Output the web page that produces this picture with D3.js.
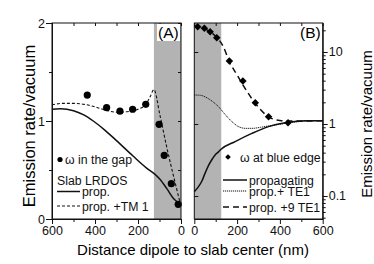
<!DOCTYPE html>
<html>
<head>
<meta charset="utf-8">
<script src="https://cdnjs.cloudflare.com/ajax/libs/d3/7.8.5/d3.min.js"></script>
<style>
  body { margin: 0; background: #fff; }
  svg { display: block; font-family: "Liberation Sans", Arial, sans-serif; }
  .axis text { font-size: 12.5px; fill: #111; }
  .axis path, .axis line { stroke: #111; stroke-width: 1; }
  .mirror path { display: none; }
  .mirror line { stroke: #111; }
  .leg { font-size: 12.3px; fill: #111; }
</style>
</head>
<body>
<svg id="chart" width="374" height="264"></svg>
<script>
// panel A: omega in the gap, linear scale, x runs 600 -> 0
var gapX = [436, 346, 284, 225, 164, 102, 78, 45, 13];
var gapY = [1.265, 1.136, 1.10, 1.12, 1.17, 0.966, 0.65, 0.36, 0.15];

var propAX = [600, 560, 500, 450, 408, 353, 300, 222, 160, 126, 100, 66, 35, 12, 0];
var propAY = [1.12, 1.125, 1.105, 1.06, 1.0, 0.905, 0.80, 0.64, 0.52, 0.465, 0.41, 0.31, 0.21, 0.165, 0.14];

var tmX = [600, 550, 500, 450, 400, 350, 300, 250, 200, 164, 145, 126, 98, 67, 25, 0];
var tmY = [1.165, 1.18, 1.18, 1.17, 1.145, 1.11, 1.09, 1.095, 1.12, 1.17, 1.24, 1.32, 1.06, 0.74, 0.35, 0.13];

// panel B: omega at blue edge, log scale, x runs 0 -> 600
var blueX = [16, 47, 74, 105, 164, 227, 285, 347, 438];
var blueY = [22.5, 21.3, 19.1, 15.8, 7.5, 3.96, 1.98, 1.26, 1.04];

var propBX = [0, 19, 35, 50, 65, 81, 100, 113, 125, 191, 269, 347, 425, 480, 520, 600];
var propBY = [0.115, 0.134, 0.16, 0.206, 0.26, 0.316, 0.38, 0.41, 0.445, 0.57, 0.74, 0.92, 1.04, 1.09, 1.11, 1.11];

var te1X = [0, 30, 60, 90, 113, 140, 160, 185, 206, 240, 270, 310, 347, 400, 425, 480, 520, 600];
var te1Y = [2.53, 2.5, 2.3, 2.0, 1.74, 1.4, 1.2, 1.02, 0.92, 0.87, 0.87, 0.9, 0.94, 0.99, 1.02, 1.07, 1.1, 1.11];

var te9X = [0, 50, 100, 136, 164, 200, 227, 285, 347, 400, 450, 500, 600];
var te9Y = [23, 21, 16.5, 11.8, 7.3, 4.8, 3.5, 1.94, 1.26, 1.12, 1.1, 1.1, 1.11];

var gapEdge = 126;   // grey band: slab region
var xTicks = [0, 200, 400, 600];
var yTicksA = [0, 1, 2];
var yTicksB = [0.1, 1, 10];

var svg = d3.select('#chart');
var grey = '#b3b3b3';

var yTop = 23, yBottom = 219;

var xA = d3.scaleLinear().domain([600, 0]).range([52, 181]);
var yA = d3.scaleLinear().domain([0, 2]).range([yBottom, yTop]);
var xB = d3.scaleLinear().domain([0, 600]).range([194.3, 322.7]);
var yB = d3.scaleLog().domain([0.0479, 25.28]).range([yBottom, yTop]);

function zip(xs, ys) {
	return xs.map(function(d, i) { return [d, ys[i]]; });
}

// ---------- panel A ----------
var gA = svg.append('g').attr('id', 'panelA');

gA.append('rect')
	.attr('x', xA(gapEdge))
	.attr('y', yTop)
	.attr('width', xA(0) - xA(gapEdge))
	.attr('height', yBottom - yTop)
	.attr('fill', grey);

var lineA = d3.line()
	.x(function(d) { return xA(d[0]); })
	.y(function(d) { return yA(d[1]); })
	.curve(d3.curveMonotoneX);

gA.append('path')
	.datum(zip(propAX, propAY))
	.attr('d', lineA)
	.attr('fill', 'none')
	.attr('stroke', '#111')
	.attr('stroke-width', 1.5);

gA.append('path')
	.datum(zip(tmX, tmY))
	.attr('d', lineA)
	.attr('fill', 'none')
	.attr('stroke', '#111')
	.attr('stroke-width', 1.1)
	.attr('stroke-dasharray', '3,2');

gA.selectAll('circle.pt')
	.data(zip(gapX, gapY))
	.enter()
	.append('circle')
	.attr('class', 'pt')
	.attr('cx', function(d) { return xA(d[0]); })
	.attr('cy', function(d) { return yA(d[1]); })
	.attr('r', 3.6)
	.attr('fill', '#000');

// mirror ticks (inward)
gA.append('g').attr('class', 'mirror')
	.attr('transform', 'translate(0,' + yTop + ')')
	.call(d3.axisBottom(xA).tickValues([0,100,200,300,400,500,600]).tickSize(3).tickFormat(''));
gA.append('g').attr('class', 'mirror')
	.attr('transform', 'translate(' + xA(0) + ',0)')
	.call(d3.axisLeft(yA).tickValues([0,0.5,1,1.5,2]).tickSize(3).tickFormat(''));

gA.append('rect')
	.attr('x', xA(600)).attr('y', yTop)
	.attr('width', xA(0) - xA(600)).attr('height', yBottom - yTop)
	.attr('fill', 'none').attr('stroke', '#111');

// major + minor ticks
gA.append('g').attr('class', 'axis mirror')
	.attr('transform', 'translate(0,' + yBottom + ')')
	.call(d3.axisBottom(xA).tickValues([100,300,500]).tickSize(3).tickFormat(''));
gA.append('g').attr('class', 'axis')
	.attr('transform', 'translate(0,' + yBottom + ')')
	.call(d3.axisBottom(xA).tickValues(xTicks).tickSize(5).tickSizeOuter(0).tickPadding(2));
gA.append('g').attr('class', 'axis mirror')
	.attr('transform', 'translate(' + xA(600) + ',0)')
	.call(d3.axisLeft(yA).tickValues([0.5,1.5]).tickSize(3).tickFormat(''));
gA.append('g').attr('class', 'axis')
	.attr('transform', 'translate(' + xA(600) + ',0)')
	.call(d3.axisLeft(yA).tickValues(yTicksA).tickSize(6).tickSizeOuter(0).tickPadding(1).tickFormat(d3.format('d')));

// (A) label
gA.append('rect')
	.attr('x', 157).attr('y', 24).attr('width', 23).attr('height', 17)
	.attr('fill', '#fff');
gA.append('text')
	.attr('x', 158).attr('y', 37.5)
	.attr('font-size', '15.5px')
	.text('(A)');

// legend A
gA.append('circle').attr('cx', 60).attr('cy', 159.5).attr('r', 2.6).attr('fill', '#000');
gA.append('text').attr('class', 'leg').attr('x', 65).attr('y', 164).text('ω in the gap');
gA.append('text').attr('class', 'leg').attr('x', 57).attr('y', 184.5).text('Slab LRDOS');
gA.append('line').attr('x1', 57).attr('x2', 80).attr('y1', 191.5).attr('y2', 191.5)
	.attr('stroke', '#111').attr('stroke-width', 1.5);
gA.append('text').attr('class', 'leg').attr('x', 82).attr('y', 196).text('prop.');
gA.append('line').attr('x1', 57).attr('x2', 80).attr('y1', 206).attr('y2', 206)
	.attr('stroke', '#111').attr('stroke-width', 1.1).attr('stroke-dasharray', '3,2');
gA.append('text').attr('class', 'leg').attr('x', 82).attr('y', 210.5).text('prop. +TM 1');

// ---------- panel B ----------
var gB = svg.append('g').attr('id', 'panelB');

gB.append('rect')
	.attr('x', xB(0))
	.attr('y', yTop)
	.attr('width', xB(gapEdge) - xB(0))
	.attr('height', yBottom - yTop)
	.attr('fill', grey);

var lineB = d3.line()
	.x(function(d) { return xB(d[0]); })
	.y(function(d) { return yB(d[1]); })
	.curve(d3.curveMonotoneX);

gB.append('path')
	.datum(zip(propBX, propBY))
	.attr('d', lineB)
	.attr('fill', 'none')
	.attr('stroke', '#111')
	.attr('stroke-width', 1.5);

gB.append('path')
	.datum(zip(te1X, te1Y))
	.attr('d', lineB)
	.attr('fill', 'none')
	.attr('stroke', '#111')
	.attr('stroke-width', 1)
	.attr('stroke-dasharray', '1.2,0.8');

gB.append('path')
	.datum(zip(te9X, te9Y))
	.attr('d', lineB)
	.attr('fill', 'none')
	.attr('stroke', '#111')
	.attr('stroke-width', 1.5)
	.attr('stroke-dasharray', '6,4');

var diamond = d3.symbol().type(d3.symbolSquare).size(28);
gB.selectAll('path.pt')
	.data(zip(blueX, blueY))
	.enter()
	.append('path')
	.attr('class', 'pt')
	.attr('d', diamond)
	.attr('transform', function(d) {
		return 'translate(' + xB(d[0]) + ',' + yB(d[1]) + ') rotate(45)';
	})
	.attr('fill', '#000');

var minorB = [];
[0.01, 0.1, 1, 10].forEach(function(dec) {
	for (var k = 2; k <= 9; k++) {
		var v = dec * k;
		if (v > yB.domain()[0] && v < yB.domain()[1]) minorB.push(v);
	}
});

gB.append('g').attr('class', 'mirror')
	.attr('transform', 'translate(0,' + yTop + ')')
	.call(d3.axisBottom(xB).tickValues([0,100,200,300,400,500,600]).tickSize(3).tickFormat(''));
gB.append('g').attr('class', 'mirror')
	.attr('transform', 'translate(' + xB(0) + ',0)')
	.call(d3.axisRight(yB).tickValues(yTicksB).tickSize(4).tickFormat(''));

gB.append('rect')
	.attr('x', xB(0)).attr('y', yTop)
	.attr('width', xB(600) - xB(0)).attr('height', yBottom - yTop)
	.attr('fill', 'none').attr('stroke', '#111');

gB.append('g').attr('class', 'axis mirror')
	.attr('transform', 'translate(0,' + yBottom + ')')
	.call(d3.axisBottom(xB).tickValues([100,300,500]).tickSize(3).tickFormat(''));
gB.append('g').attr('class', 'axis')
	.attr('transform', 'translate(0,' + yBottom + ')')
	.call(d3.axisBottom(xB).tickValues(xTicks).tickSize(5).tickSizeOuter(0).tickPadding(2));
gB.append('g').attr('class', 'axis mirror')
	.attr('transform', 'translate(' + xB(600) + ',0)')
	.call(d3.axisRight(yB).tickValues(minorB).tickSize(3).tickFormat(''));
gB.append('g').attr('class', 'axis')
	.attr('transform', 'translate(' + xB(600) + ',0)')
	.call(d3.axisRight(yB).tickValues(yTicksB).tickSize(5).tickSizeOuter(0).tickPadding(1).tickFormat(d3.format('~g')));

gB.append('text')
	.attr('x', 300).attr('y', 37.5)
	.attr('font-size', '15.5px')
	.text('(B)');

// legend B
gB.append('path').attr('d', d3.symbol().type(d3.symbolSquare).size(16))
	.attr('transform', 'translate(228,157) rotate(45)').attr('fill', '#000');
gB.append('text').attr('class', 'leg').attr('x', 240).attr('y', 161.5).text('ω at blue edge');
gB.append('line').attr('x1', 223).attr('x2', 247).attr('y1', 180).attr('y2', 180)
	.attr('stroke', '#111').attr('stroke-width', 1.5);
gB.append('text').attr('class', 'leg').attr('x', 249).attr('y', 184.5).text('propagating');
gB.append('line').attr('x1', 223).attr('x2', 247).attr('y1', 191).attr('y2', 191)
	.attr('stroke', '#111').attr('stroke-width', 1).attr('stroke-dasharray', '1.2,0.8');
gB.append('text').attr('class', 'leg').attr('x', 249).attr('y', 195.5).text('prop.+ TE1');
gB.append('line').attr('x1', 223).attr('x2', 247).attr('y1', 207).attr('y2', 207)
	.attr('stroke', '#111').attr('stroke-width', 1.5).attr('stroke-dasharray', '6,4');
gB.append('text').attr('class', 'leg').attr('x', 249).attr('y', 211.5).text('prop. +9 TE1');

// ---------- titles ----------
svg.append('text')
	.attr('x', 193).attr('y', 255)
	.attr('text-anchor', 'middle')
	.attr('font-size', '15px')
	.text('Distance dipole to slab center (nm)');

svg.append('text')
	.attr('transform', 'translate(35,126) rotate(-90)')
	.attr('text-anchor', 'middle')
	.attr('font-size', '16.5px')
	.text('Emission rate/vacuum');

svg.append('text')
	.attr('transform', 'translate(372,124) rotate(-90)')
	.attr('text-anchor', 'middle')
	.attr('font-size', '15px')
	.text('Emission rate/vacuum');
</script>
</body>
</html>
